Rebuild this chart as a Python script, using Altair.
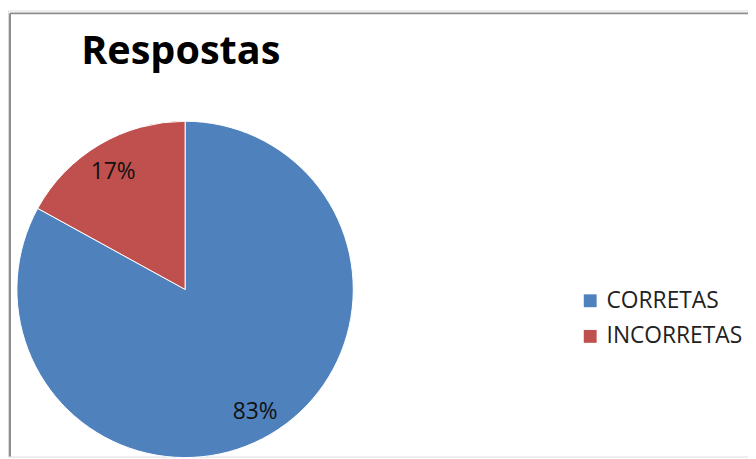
import altair as alt
import pandas as pd

categories = ["CORRETAS", "INCORRETAS"]
values = [83, 17]
labels = ["83%", "17%"]
colors = ["#4F81BD", "#C0504D"]
title_text = "Respostas"

df = pd.DataFrame({"cat": categories, "val": values, "lab": labels, "order": [0, 1]})

W, H = 748, 451
cx, cy = 187 - 8, 290 - 8

base = alt.Chart(df).encode(
    theta=alt.Theta("val:Q", stack=True),
    order=alt.Order("order:Q"),
)

pie = base.mark_arc(radius=170, stroke="white", strokeWidth=1).encode(
    x=alt.value(cx), y=alt.value(cy),
    color=alt.Color(
        "cat:N",
        scale=alt.Scale(domain=categories, range=colors),
        legend=alt.Legend(
            title=None, orient="none", legendX=577, legendY=282,
            symbolType="square", symbolSize=169, symbolStrokeWidth=0,
            labelFont="Open Sans", labelFontSize=23, labelColor="#222222",
            rowPadding=12, symbolOffset=0, labelOffset=5,
        ),
    ),
)

text = base.mark_text(radius=141, font="Open Sans", fontSize=23, color="#111111").encode(
    x=alt.value(cx - 1), y=alt.value(cy + 3),
    text="lab:N",
)

title = alt.Chart(pd.DataFrame({"t": [title_text]})).mark_text(
    font="Open Sans", fontSize=40, fontWeight="bold", align="left", baseline="alphabetic", color="#000000"
).encode(x=alt.value(82 - 8), y=alt.value(62 - 8), text="t:N")

top_line = alt.Chart(pd.DataFrame({"a": [0]})).mark_rule(color="#8c8c8c", strokeWidth=2).encode(
    x=alt.value(2), x2=alt.value(W), y=alt.value(3)
)
left_line = alt.Chart(pd.DataFrame({"a": [0]})).mark_rule(color="#8c8c8c", strokeWidth=2).encode(
    x=alt.value(2), y=alt.value(3), y2=alt.value(H)
)

chart = alt.layer(top_line, left_line, pie, text, title).properties(
    width=W, height=H, padding=0, autosize=alt.AutoSizeParams(type="none")
).configure_view(stroke=None).configure(background="white")

chart.save("out.html", embed_options={"renderer": "svg", "actions": False})
